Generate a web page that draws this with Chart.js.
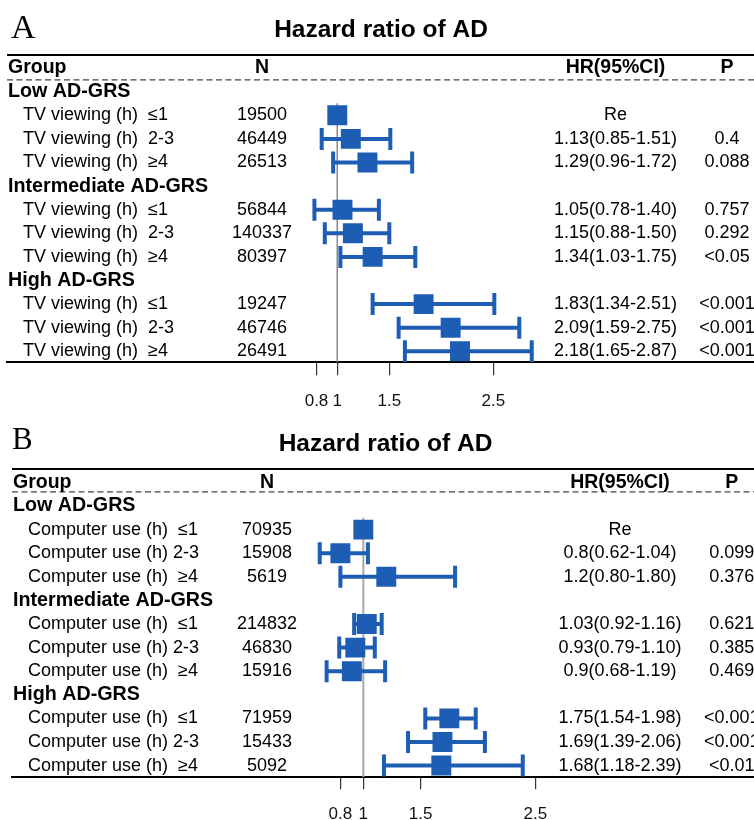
<!DOCTYPE html>
<html><head><meta charset="utf-8">
<script src="https://cdn.jsdelivr.net/npm/chart.js@4"></script>
<style>html,body{margin:0;padding:0;background:#fff}canvas{display:block}</style>
</head><body>
<canvas id="ca" width="754" height="410"></canvas>
<canvas id="cb" width="754" height="410"></canvas>
<script>
// ---------- data ----------
const GROUPS = ['Low AD-GRS', 'Intermediate AD-GRS', 'High AD-GRS'];
const HEADERS = ['Group', 'N', 'HR(95%CI)', 'P'];
const TICKS = [0.8, 1, 1.5, 2.5];
const TICK_LABELS = ['0.8', '1', '1.5', '2.5'];

const A_TITLE = 'Hazard ratio of AD';
const A_LABELS = ['TV viewing (h)  \u22641', 'TV viewing (h)  2-3', 'TV viewing (h)  \u22654'];
const A_N = [19500, 46449, 26513, 56844, 140337, 80397, 19247, 46746, 26491];
const A_HR = [1, 1.13, 1.29, 1.05, 1.15, 1.34, 1.83, 2.09, 2.18];
const A_LO = [null, 0.85, 0.96, 0.78, 0.88, 1.03, 1.34, 1.59, 1.65];
const A_HI = [null, 1.51, 1.72, 1.40, 1.50, 1.75, 2.51, 2.75, 2.87];
const A_HR_TEXT = ['Re', '1.13(0.85-1.51)', '1.29(0.96-1.72)', '1.05(0.78-1.40)', '1.15(0.88-1.50)', '1.34(1.03-1.75)', '1.83(1.34-2.51)', '2.09(1.59-2.75)', '2.18(1.65-2.87)'];
const A_P = ['', '0.4', '0.088', '0.757', '0.292', '<0.05', '<0.001', '<0.001', '<0.001'];

const B_TITLE = 'Hazard ratio of AD';
const B_LABELS = ['Computer use (h)  \u22641', 'Computer use (h) 2-3', 'Computer use (h)  \u22654'];
const B_N = [70935, 15908, 5619, 214832, 46830, 15916, 71959, 15433, 5092];
const B_HR = [1, 0.8, 1.2, 1.03, 0.93, 0.9, 1.75, 1.69, 1.68];
const B_LO = [null, 0.62, 0.80, 0.92, 0.79, 0.68, 1.54, 1.39, 1.18];
const B_HI = [null, 1.04, 1.80, 1.16, 1.10, 1.19, 1.98, 2.06, 2.39];
const B_HR_TEXT = ['Re', '0.8(0.62-1.04)', '1.2(0.80-1.80)', '1.03(0.92-1.16)', '0.93(0.79-1.10)', '0.9(0.68-1.19)', '1.75(1.54-1.98)', '1.69(1.39-2.06)', '1.68(1.18-2.39)'];
const B_P = ['', '0.099', '0.376', '0.621', '0.385', '0.469', '<0.001', '<0.001', '<0.01'];

// ---------- drawing ----------
const BLUE = '#1e5db4';
const SANS = '"Liberation Sans", Arial, sans-serif';
const SERIF = '"Liberation Serif", "Times New Roman", serif';

function makeChart(id, d, L) {
  const rows = d.hr.map((_, i) => Math.floor(i / 3) * 4 + 1 + (i % 3));
  const datasets = [];
  datasets.push({ data: [{ x: 1, y: 0.5 }, { x: 1, y: L.yMax }], showLine: true,
    borderColor: L.refColor, borderWidth: L.refWidth, pointRadius: 0, order: 3 });
  const caps = [];
  d.lo.forEach((lo, i) => {
    if (lo == null) return;
    datasets.push({ data: [{ x: lo, y: rows[i] }, { x: d.hi[i], y: rows[i] }], showLine: true,
      borderColor: BLUE, borderWidth: 4, pointRadius: 0, order: 2 });
    caps.push({ x: lo, y: rows[i] }, { x: d.hi[i], y: rows[i] });
  });
  datasets.push({ data: caps, pointStyle: 'line', pointRadius: 11, pointRotation: 90,
    pointBorderWidth: 4, pointBorderColor: BLUE, borderColor: BLUE, order: 1 });
  datasets.push({ data: d.hr.map((v, i) => ({ x: v, y: rows[i] })), pointStyle: 'rect',
    pointRadius: 14.1, pointBackgroundColor: BLUE, backgroundColor: BLUE, pointBorderWidth: 0, order: 0 });

  const tablePlugin = {
    id: 'table',
    afterDraw(chart) {
      const ctx = chart.ctx, ca = chart.chartArea, ys = chart.scales.y;
      const Y = r => ys.getPixelForValue(r);
      ctx.save();
      ctx.fillStyle = '#000';
      ctx.textBaseline = 'alphabetic';
      ctx.textAlign = 'left';
      ctx.font = `${L.letterSize}px ${SERIF}`;
      ctx.fillText(L.letter, L.letterX, L.letterY);
      ctx.textAlign = 'center';
      ctx.font = `bold ${L.titleSize}px ${SANS}`;
      ctx.fillText(d.title, L.titleX, L.titleY);
      // top rule
      ctx.strokeStyle = '#000';
      ctx.lineWidth = 2;
      ctx.beginPath(); ctx.moveTo(ca.left, ca.top); ctx.lineTo(ca.right, ca.top); ctx.stroke();
      // dashed rule
      ctx.strokeStyle = '#444';
      ctx.lineWidth = 1.3;
      ctx.setLineDash([6, 3.5]);
      ctx.beginPath(); ctx.moveTo(ca.left, Y(L.dashRow)); ctx.lineTo(ca.right, Y(L.dashRow)); ctx.stroke();
      ctx.setLineDash([]);
      ctx.textBaseline = 'middle';
      // headers
      ctx.font = `bold 19.5px ${SANS}`;
      ctx.textAlign = 'left';
      ctx.fillText(HEADERS[0], L.x0, Y(-1));
      ctx.textAlign = 'center';
      ctx.fillText(HEADERS[1], L.nX, Y(-1));
      ctx.fillText(HEADERS[2], L.hrX, Y(-1));
      ctx.fillText(HEADERS[3], L.pX, Y(-1));
      // groups
      ctx.textAlign = 'left';
      ctx.font = `bold 19.7px ${SANS}`;
      GROUPS.forEach((g, k) => ctx.fillText(g, L.x0, Y(k * 4)));
      // rows
      d.hr.forEach((_, i) => {
        const y = Y(rows[i]);
        ctx.textAlign = 'left';
        ctx.font = `${L.labelSize}px ${SANS}`;
        ctx.fillText(d.labels[i % 3], L.x1, y);
        ctx.font = `18px ${SANS}`;
        ctx.textAlign = 'center';
        ctx.fillText(String(d.n[i]), L.nX, y);
        ctx.fillText(d.hrText[i], L.hrX, y);
        if (d.p[i]) ctx.fillText(d.p[i], L.pX, y);
      });
      ctx.restore();
    }
  };

  return new Chart(document.getElementById(id), {
    type: 'scatter',
    data: { datasets },
    options: {
      responsive: false, animation: false, events: [],
      layout: { autoPadding: false, padding: { left: L.left, right: 0, top: L.top, bottom: 0 } },
      plugins: { legend: { display: false }, tooltip: { enabled: false }, title: { display: false } },
      scales: {
        x: {
          type: 'linear', min: L.xMin, max: L.xMax,
          afterBuildTicks: s => { s.ticks = TICKS.map(v => ({ value: v })); },
          afterFit: s => { s.height = L.axisH; },
          grid: { drawOnChartArea: false, drawTicks: true, tickLength: L.tickLen, color: '#333', lineWidth: 1.2 },
          border: { display: true, color: '#000', width: 2 },
          ticks: { autoSkip: false, maxRotation: 0, padding: L.tickPad, color: '#111',
            font: { family: SANS, size: 17 }, callback: (v, i) => TICK_LABELS[i] }
        },
        y: { type: 'linear', display: false, reverse: true, min: L.yMin, max: L.yMax }
      }
    },
    plugins: [tablePlugin]
  });
}

makeChart('ca',
  { title: A_TITLE, labels: A_LABELS, n: A_N, hr: A_HR, lo: A_LO, hi: A_HI, hrText: A_HR_TEXT, p: A_P },
  { letter: 'A', letterX: 11, letterY: 38, letterSize: 34, titleX: 381, titleY: 37, titleSize: 24.5,
    left: 7, top: 55, xMin: -2.176, xMax: 5.007, yMin: -1.555, yMax: 11.466, axisH: 47.7,
    tickLen: 13, tickPad: 16, dashRow: -0.5, x0: 8, x1: 23, labelSize: 18, nX: 262, hrX: 615.5, pX: 727,
    refColor: '#8c8c8c', refWidth: 1 });

makeChart('cb',
  { title: B_TITLE, labels: B_LABELS, n: B_N, hr: B_HR, lo: B_LO, hi: B_HI, hrText: B_HR_TEXT, p: B_P },
  { letter: 'B', letterX: 12, letterY: 39, letterSize: 31, titleX: 385.5, titleY: 40.7, titleSize: 24.5,
    left: 12, top: 59, xMin: -2.063, xMax: 4.406, yMin: -1.568, yMax: 11.496, axisH: 42.7,
    tickLen: 12, tickPad: 14.5, dashRow: -0.6, x0: 13, x1: 28, labelSize: 18, nX: 267, hrX: 620, pX: 731.7,
    refColor: '#a8a8a8', refWidth: 2 });
</script>
</body></html>
